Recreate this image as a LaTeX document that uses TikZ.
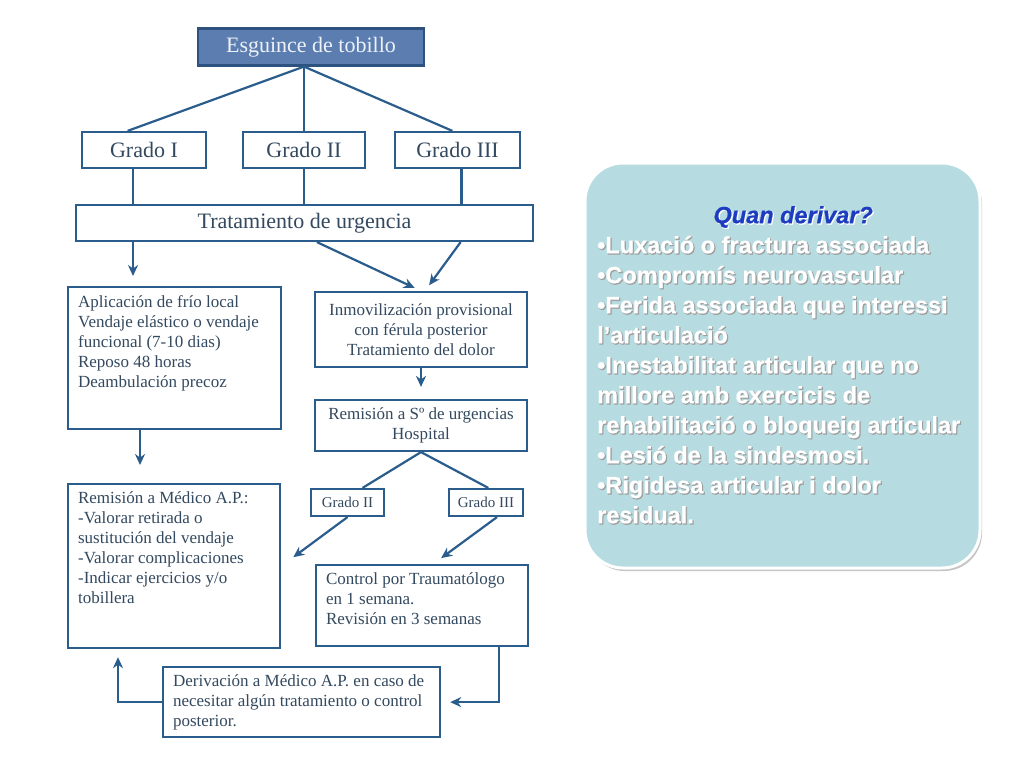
\documentclass[tikz,border=0pt]{standalone}
\usepackage{fontspec}
\setmainfont{Liberation Serif}
\newfontfamily\notefont{Liberation Sans}[FakeBold=0.6]
\newfontfamily\noteedge{Liberation Sans}[FakeBold=3]
\usetikzlibrary{arrows.meta, positioning, calc, shadows}
\definecolor{flowline}{HTML}{2A5D8C}
\definecolor{flowtext}{HTML}{33495F}
\definecolor{headfill}{HTML}{5B7DB0}
\definecolor{headdraw}{HTML}{2E527F}
\definecolor{headtext}{HTML}{EEF2F8}
\definecolor{notefill}{HTML}{B6DCE1}
\definecolor{notetitle}{HTML}{1E3CC0}

% text of the side note, #1 = colour of its title
\newcommand{\notelines}[1]{%
  \parbox{392pt}{\centering{\color{#1}\itshape Quan derivar?}\par
  \raggedright
  •Luxació o fractura associada\\
  •Compromís neurovascular\\
  •Ferida associada que interessi\\
  l’articulació\\
  •Inestabilitat articular que no\\
  millore amb exercicis de\\
  rehabilitació o bloqueig articular\\
  •Lesió de la sindesmosi.\\
  •Rigidesa articular i dolor\\
  residual.}}

\begin{document}
\begin{tikzpicture}[
    x=1pt, y=-1pt,
    box/.style={rectangle, draw=flowline, line width=2.2, fill=white, text=flowtext,
                font=\fontsize{17}{20}\selectfont},
    headbox/.style={rectangle, draw=headdraw, fill=headfill, text=headtext, line width=2.2,
                minimum width=226, minimum height=37, font=\fontsize{22}{26}\selectfont},
    gradebox/.style={box, minimum height=36, font=\fontsize{22}{26}\selectfont},
    smallbox/.style={box, minimum height=27, font=\fontsize{15}{18}\selectfont},
    textbox/.style={box, anchor=north west, inner xsep=10, inner ysep=8},
    centerbox/.style={box, align=center},
    notebox/.style={rectangle, rounded corners=38, draw=white, line width=3, fill=notefill,
                minimum width=395, minimum height=405,
                drop shadow={opacity=0.45, shadow xshift=2pt, shadow yshift=-3pt}},
    notestyle/.style={anchor=north west, inner sep=0, font=\bfseries\fontsize{23.5}{30}\selectfont},
    link/.style={draw=flowline, line width=2.2},
    arrow/.style={link, -{Stealth[length=11pt, width=10pt]}}
]
\useasboundingbox (0,0) rectangle (1024,768);
\fill[white] (0,0) rectangle (1024,768);

% flowchart
\node[headbox] (esguince) at (311,47) {Esguince de tobillo};

\node[gradebox, minimum width=124] (gradoI) at (144,150) {Grado I};
\node[gradebox, minimum width=122] (gradoII) at (304,150) {Grado II};
\node[gradebox, minimum width=125] (gradoIII) at (457.5,150) {Grado III};

\node[gradebox, minimum width=457] (tratamiento) at (304.5,223) {Tratamiento de urgencia};

\node[textbox] (aplic) at (67,286)
    {\parbox[t][126pt][t]{193pt}{Aplicación de frío local\\
     Vendaje elástico o vendaje\\
     funcional (7-10 dias)\\
     Reposo 48 horas\\
     Deambulación precoz}};

\node[centerbox, minimum width=212, minimum height=75] (inmov) at (421,329.5)
    {Inmovilización provisional\\ con férula posterior\\ Tratamiento del dolor};

\node[centerbox, minimum width=212, minimum height=51] (remS) at (421,425.5)
    {Remisión a Sº de urgencias\\ Hospital};

\node[textbox] (remMed) at (67,483)
    {\parbox[t][148pt][t]{192pt}{Remisión a Médico A.P.:\\
     -Valorar retirada o\\
     sustitución del vendaje\\
     -Valorar complicaciones\\
     -Indicar ejercicios y/o\\
     tobillera}};

\node[smallbox, minimum width=73] (gsII) at (347.5,502.5) {Grado II};
\node[smallbox, minimum width=74] (gsIII) at (486,502.5) {Grado III};

\node[textbox] (control) at (315,564)
    {\parbox[t][65pt][t]{192pt}{Control por Traumatólogo\\
     en 1 semana.\\
     Revisión en 3 semanas}};

\node[textbox] (deriv) at (162,666)
    {\parbox[t][54pt][t]{257pt}{Derivación a Médico A.P. en caso de\\
     necesitar algún tratamiento o control\\
     posterior.}};

% connectors
\draw[link] ($(gradoI.north west)!0.37!(gradoI.north east)$) -- (esguince.south -| gradoII.north)
    -- ($(gradoIII.north west)!0.46!(gradoIII.north east)$);
\draw[link] (esguince.south -| gradoII.north) -- (gradoII.north);

\draw[link] ($(gradoI.south)+(-11,0)$) coordinate (g1) -- (g1 |- tratamiento.north);
\draw[link] (gradoII.south) -- (gradoII.south |- tratamiento.north);
\draw[link] ($(gradoIII.south)+(4,0)$) coordinate (g3) -- (g3 |- tratamiento.north);

\draw[arrow, shorten >=10] (g1 |- tratamiento.south) -- (g1 |- aplic.north);
\draw[arrow, shorten >=7] ($(tratamiento.south west)!0.527!(tratamiento.south east)$)
    -- (inmov.north);
\draw[arrow, shorten >=7] ($(tratamiento.south west)!0.84!(tratamiento.south east)$)
    -- ($(inmov.north)+(4,0)$);
\draw[arrow, shorten >=12] (inmov.south) -- (remS.north);
\draw[arrow, shorten >=18] ($(aplic.south west)+(73,0)$) coordinate (a1) -- (a1 |- remMed.north);

\draw[link] ($(gsII.north west)!0.7!(gsII.north east)$) -- (remS.south)
    -- ($(gsIII.north west)!0.53!(gsIII.north east)$);

\draw[arrow, shorten >=15] (gsII.south) -- (remMed.east);
\draw[arrow, shorten >=10] ($(gsIII.south)+(11,0)$) -- ($(control.north)+(11,0)$);

\draw[arrow, shorten >=9] ($(control.south)+(77,0)$) |- (deriv.east);
\draw[arrow, shorten >=8] (deriv.west) -| ($(remMed.south west)+(51,0)$);

% side note
\node[notebox] (note) at (782.5,365.5) {};
\node[notestyle, text=gray!75] (noteshade) at (598,207) {\noteedge\notelines{white}};
\node[notestyle, text=white] (notetext) at (597,206) {\notefont\notelines{notetitle}};
\end{tikzpicture}
\end{document}
